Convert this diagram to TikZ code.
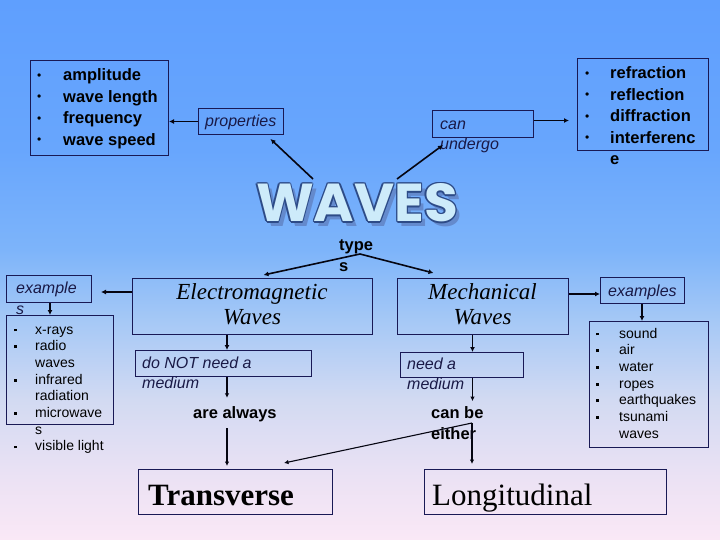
\documentclass[tikz,border=0pt]{standalone}
\usepackage{fontspec}
\setmainfont{Liberation Sans}
\newfontfamily\tnr{Liberation Serif}
\newfontfamily\wavesfont{Poppins}
\usetikzlibrary{arrows.meta,calc}
\definecolor{c0}{RGB}{250,232,246}
\definecolor{c1}{RGB}{236,226,244}
\definecolor{c2}{RGB}{210,218,242}
\definecolor{c3}{RGB}{165,200,246}
\definecolor{c4}{RGB}{125,180,250}
\definecolor{c5}{RGB}{104,166,253}
\definecolor{c6}{RGB}{95,159,254}
\definecolor{navy}{RGB}{25,25,85}
\definecolor{ink}{RGB}{25,25,70}
\definecolor{wfill}{RGB}{205,235,250}
\definecolor{wline}{RGB}{45,75,135}
\definecolor{wshadow}{RGB}{100,138,205}
\pgfdeclareverticalshading{bgshade}{100bp}{color(0bp)=(c0); color(25bp)=(c0); color(30.6bp)=(c1); color(38bp)=(c2); color(45.4bp)=(c3); color(51.9bp)=(c4); color(61.1bp)=(c5); color(75bp)=(c6); color(100bp)=(c6)}
\newcommand{\sqb}{\raisebox{2.6pt}{\rule{2.8pt}{2.8pt}}}
\newcommand{\bul}{\raisebox{1.6pt}{\mdseries\fontsize{12}{12}\selectfont\textbullet}}
\newcommand{\wavestxt}{\resizebox{202pt}{38pt}{\wavesfont\bfseries WAVES}}
\newcommand{\bx}[5]{\node[box,minimum width=#4pt,minimum height=#5pt] (#1) at (#2,#3) {};}
\begin{document}
\begin{tikzpicture}[x=1pt,y=-1pt,
  box/.style={draw=navy,line width=1pt,inner sep=0pt,anchor=north west},
  conn/.style={line width=1.6pt,draw=black!80!navy,-{Latex[length=5pt,width=5pt]}},
  thinconn/.style={line width=1.1pt,draw=black!80!navy,-{Latex[length=4.5pt,width=4.5pt]}},
  bigl/.style={font=\fontsize{16.5}{21.4}\selectfont\bfseries,inner sep=0pt,anchor=base west},
  smalll/.style={font=\fontsize{14}{16.7}\selectfont,inner sep=0pt,anchor=base west},
  lbl/.style={font=\fontsize{16}{20}\selectfont\itshape,text=ink,inner sep=0pt,anchor=base west},
  bold/.style={font=\fontsize{16.5}{21}\selectfont\bfseries,inner sep=0pt,anchor=base west},
  script/.style={font=\fontsize{23}{25}\selectfont\tnr\itshape,align=center,inner sep=0pt},
  wv/.style={inner sep=0pt}]
\useasboundingbox (0,0) rectangle (720,540);
\shade[shading=bgshade] (0,0) rectangle (720,540);
% boxes
\bx{plist}{30}{60}{138}{95}
\bx{prop}{198}{108}{85}{26}
\bx{canu}{432}{110}{101}{27}
\bx{refl}{577}{58}{131}{92}
\bx{exs}{6}{275}{85}{27}
\bx{emlist}{6}{315}{107}{109}
\bx{em}{132}{278}{240}{56}
\bx{donot}{135}{350}{176}{26}
\bx{mech}{397}{278}{171}{56}
\bx{need}{400}{352}{123}{25}
\bx{exm}{600}{277}{84}{26}
\bx{mlist}{589}{321}{119}{126}
\bx{trans}{138}{469}{194}{45}
\bx{longi}{424}{469}{242}{45}
% texts
\node[bigl] (plistt) at (37,81) {\begin{tabular}[t]{@{}p{26pt}@{}l@{}}\bul&amplitude\\\bul&wave length\\\bul&frequency\\\bul&wave speed\end{tabular}};
\node[bigl] (reflt) at (585,79) {\begin{tabular}[t]{@{}p{25pt}@{}l@{}}\bul&refraction\\\bul&reflection\\\bul&diffraction\\\bul&interferenc\\&e\end{tabular}};
\node[smalll] (emlistt) at (13.5,334) {\begin{tabular}[t]{@{}p{21.5pt}@{}l@{}}\sqb&x-rays\\\sqb&radio\\&waves\\\sqb&infrared\\&radiation\\\sqb&microwave\\&s\\\sqb&visible light\end{tabular}};
\node[smalll] (mlistt) at (595.5,338) {\begin{tabular}[t]{@{}p{23.5pt}@{}l@{}}\sqb&sound\\\sqb&air\\\sqb&water\\\sqb&ropes\\\sqb&earthquakes\\\sqb&tsunami\\&waves\end{tabular}};
\node[lbl] (propt) at (205,127) {properties};
\node[lbl] (canut) at (440,130) {\begin{tabular}[t]{@{}l@{}}can\\undergo\end{tabular}};
\node[lbl,font=\fontsize{16}{21}\selectfont\itshape] (exst) at (16,293) {\begin{tabular}[t]{@{}l@{}}example\\s\end{tabular}};
\node[lbl] (donott) at (142,368.5) {\begin{tabular}[t]{@{}l@{}}do NOT need a\\medium\end{tabular}};
\node[lbl] (needt) at (407,369.5) {\begin{tabular}[t]{@{}l@{}}need a\\medium\end{tabular}};
\node[lbl] (exmt) at (608,296) {examples};
\node[bold] (types) at (339,250.5) {\begin{tabular}[t]{@{}l@{}}type\\s\end{tabular}};
\node[bold] (always) at (193,418) {are always};
\node[bold] (canbe) at (431,418) {\begin{tabular}[t]{@{}l@{}}can be\\either\end{tabular}};
\node[script] (emt) at (252,304.5) {Electromagnetic\\Waves};
\node[script] (mecht) at (482.5,304.5) {Mechanical\\Waves};
\node[inner sep=0pt,anchor=base west,font=\fontsize{31}{31}\selectfont\tnr\bfseries] (transt) at (148,505) {Transverse};
\node[inner sep=0pt,anchor=base west,font=\fontsize{31}{31}\selectfont\tnr] (longit) at (432,505) {Longitudinal};
% WAVES title
\coordinate (wc) at (357,203);
\node[wv,text=wshadow] (wsh) at ($(wc)+(4,5)$) {\wavestxt};
\foreach \a in {0,45,...,315}{\node[wv,text=wline] (wo\a) at ($(wc)+(\a:1.4)$) {\wavestxt};}
\node[wv,text=wfill] (waves) at (wc) {\wavestxt};
% connectors
\coordinate (w1) at (313,179);
\coordinate (w2) at (397,179);
\coordinate (tp) at (360,254);
\coordinate (emL) at ($(em.north west)+(0,14)$);
\coordinate (mechR) at ($(mech.north east)+(0,16)$);
\coordinate (emx) at (227,0);
\coordinate (mx) at (472.5,0);
\coordinate (ex) at (642,0);
\coordinate (exsx) at (50,0);
\coordinate (cbe) at (472,423);
\draw[conn] (prop.west) -- (prop.west -| plist.east);
\draw[conn] ([yshift=3.5pt]canu.east) -- ($([yshift=3.5pt]canu.east)+(35,0)$);
\draw[conn] (w1) -- ($(prop.south)+(29.5,4)$);
\draw[conn] (w2) -- ($(canu.south west)+(11,7)$);
\draw[conn] (tp) -- ($(em.north)+(11,-3)$);
\draw[conn] (tp) -- ($(mech.north)+(-49.5,-5)$);
\draw[conn] (emL) -- ($(emL -| exs.east)+(9,0)$);
\draw[conn] (exsx |- exs.south) -- (exsx |- emlist.north);
\draw[conn] (emx |- em.south) -- (emx |- donot.north);
\draw[thinconn] (emx |- donot.south) -- ($(emx |- always.north)+(0,-8)$);
\draw[thinconn] ($(emx |- always.south)+(0,6.5)$) -- ($(emx |- trans.north)+(0,-3)$);
\draw[conn] (mechR) -- (mechR -| exm.west);
\draw[conn] (ex |- exm.south) -- (ex |- mlist.north);
\draw[conn] (mx |- mech.south) -- (mx |- need.north);
\draw[thinconn] (mx |- need.south) -- ($(mx |- canbe.north)+(0,-2)$);
\draw[thinconn] (cbe) -- ($(trans.north east)+(-49,-6)$);
\draw[thinconn] (cbe) -- ($(cbe |- longi.north)+(0,-5)$);
\end{tikzpicture}
\end{document}
